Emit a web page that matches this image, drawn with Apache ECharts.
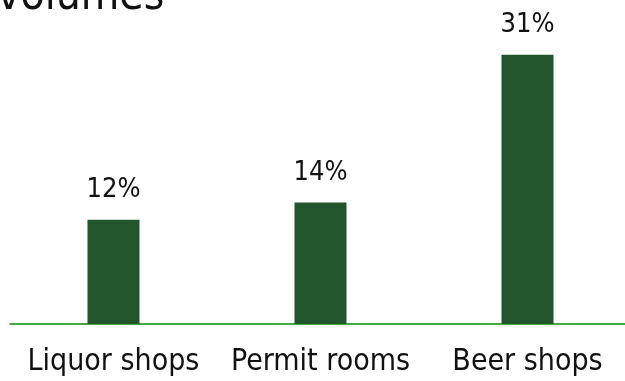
<!DOCTYPE html>
<html>
<head>
<meta charset="utf-8">
<script src="https://cdn.jsdelivr.net/npm/echarts@6/dist/echarts.min.js"></script>
<style>
  html, body { margin: 0; padding: 0; background: #ffffff; overflow: hidden; }
  /* the plot runs slightly past the right edge of the window */
  #chart { width: 631px; height: 381px; }
</style>
</head>
<body>
<div id="chart"></div>
<script>
// Outlet types and their share of volumes (%)
const categories = ['Liquor shops', 'Permit rooms', 'Beer shops'];
const shares = [12, 14, 31];
const titleText = 'volumes';

const axisFont = '"DejaVu Sans Condensed", "DejaVu Sans", sans-serif';

const chart = echarts.init(document.getElementById('chart'), null, { renderer: 'canvas' });
chart.setOption({
  animation: false,
  backgroundColor: '#ffffff',
  grid: { left: 10, right: 0, top: 20, bottom: 57, containLabel: false },
  graphic: [{
    type: 'text',
    left: -3,
    top: -24,
    style: {
      text: titleText,
      font: '44px ' + axisFont,
      fill: '#111111'
    }
  }],
  xAxis: {
    type: 'category',
    data: categories,
    axisLine: { show: true, lineStyle: { color: '#0a900a', width: 1.5 } },
    axisTick: { show: false },
    axisLabel: {
      color: '#111111',
      fontFamily: axisFont,
      fontSize: 30,
      margin: 23,
      interval: 0
    }
  },
  yAxis: {
    type: 'value',
    min: 0,
    max: 35,
    show: false,
    splitLine: { show: false }
  },
  series: [{
    type: 'bar',
    data: shares,
    barWidth: 52,
    itemStyle: { color: '#22552b' },
    label: {
      show: true,
      position: 'top',
      distance: 16,
      formatter: '{c}%',
      color: '#111111',
      fontFamily: axisFont,
      fontSize: 27
    }
  }]
});
</script>
</body>
</html>
